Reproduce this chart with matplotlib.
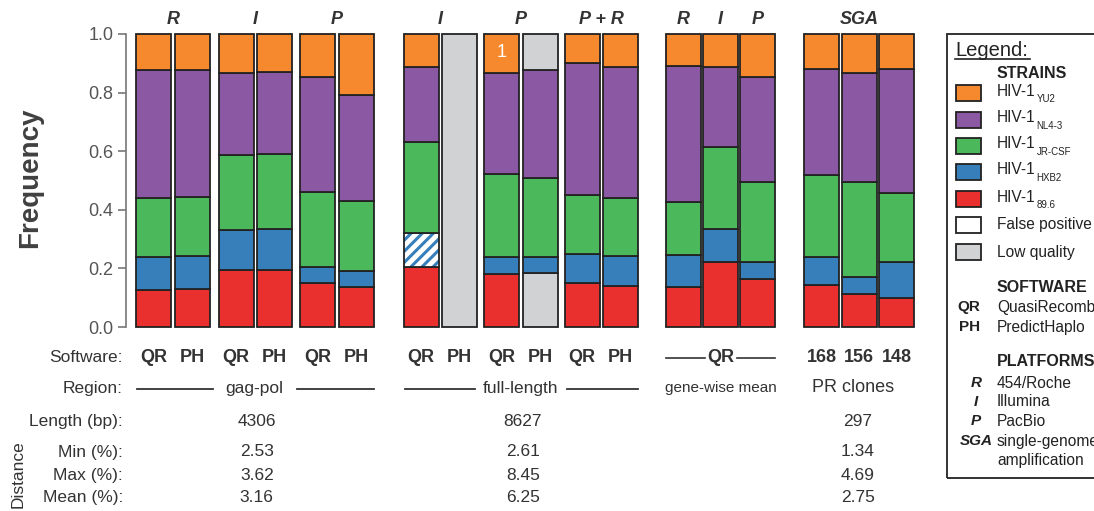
import matplotlib
matplotlib.use("Agg")
import matplotlib.pyplot as plt
from matplotlib.patches import Rectangle
from matplotlib.lines import Line2D
import numpy as np

plt.rcParams['font.family'] = ['Liberation Sans', 'DejaVu Sans']
plt.rcParams['hatch.linewidth'] = 2.2

# ---------------- data ----------------
group_sizes = [2, 2, 2, 2, 2, 2, 3, 3]
platform_labels = ["R", "I", "P", "I", "P", "P + R", None, "SGA"]
gene_platforms = ["R", "I", "P"]
software = ["QR", "PH"] * 6
sga_counts = ["168", "156", "148"]

low_q_bottom = [0, 0, 0, 0, 0, 0, 0, 1.0, 0, .183, 0, 0, 0, 0, 0, 0, 0, 0]
hiv_896 = [.125, .129, .195, .195, .151, .135, .206, 0, .181, 0, .149, .140, .135, .221, .165, .144, .114, .100]
hiv_hxb2 = [.114, .113, .136, .138, .053, .057, 0, 0, .059, .057, .100, .102, .110, .112, .056, .095, .058, .123]
false_pos = [0, 0, 0, 0, 0, 0, .116, 0, 0, 0, 0, 0, 0, 0, 0, 0, 0, 0]
hiv_jrcsf = [.200, .202, .255, .256, .256, .238, .310, 0, .281, .267, .201, .197, .183, .282, .273, .280, .324, .235]
hiv_nl43 = [.437, .433, .281, .280, .393, .361, .257, 0, .345, .370, .450, .450, .463, .274, .359, .360, .371, .421]
hiv_yu2 = [.124, .123, .133, .131, .147, .209, .111, 0, .134, 0, .100, .111, .109, .111, .147, .121, .133, .121]
low_q_top = [0, 0, 0, 0, 0, 0, 0, 0, 0, .123, 0, 0, 0, 0, 0, 0, 0, 0]

region_names = ["gag-pol", "full-length", "gene-wise mean", "PR clones"]
lengths = ["4306", "8627", "297"]
dist_min = ["2.53", "2.61", "1.34"]
dist_max = ["3.62", "8.45", "4.69"]
dist_mean = ["3.16", "6.25", "2.75"]

strain_names = ["YU2", "NL4-3", "JR-CSF", "HXB2", "89.6"]

# ---------------- style ----------------
C_OR = "#f6892e"
C_PU = "#8b58a3"
C_GR = "#4cb85c"
C_BL = "#377fbb"
C_RE = "#e9302f"
C_LQ = "#d1d2d4"
TXT = "#333333"

W, H = 1094, 511
fig = plt.figure(figsize=(W / 100, H / 100), dpi=100)


def P(x, y):
    return (x / W, 1 - y / H)


# axes mapped so that x data = pixel x
ax_l, ax_r, y_top, y_bot = 126, 925, 34, 327
ax = fig.add_axes([ax_l / W, 1 - y_bot / H, (ax_r - ax_l) / W, (y_bot - y_top) / H])
ax.set_xlim(ax_l, ax_r)
ax.set_ylim(0, 1)

# bar layout
bar_w = 35
group_gaps = [9, 8, 30, 7, 7, 28, 29]
steps = [38.5, 38.5, 38.5, 38.5, 38.5, 38.5, 37, 37.5]
x = 136
lefts = []
group_spans = []
for gi, n in enumerate(group_sizes):
    g0 = x
    for k in range(n):
        lefts.append(x)
        if k < n - 1:
            x += steps[gi]
    group_spans.append((g0, x + bar_w))
    x += bar_w
    if gi < len(group_gaps):
        x += group_gaps[gi]
lefts = np.array(lefts)
centers = lefts + bar_w / 2

segments = [
    (low_q_bottom, C_LQ, None),
    (hiv_896, C_RE, None),
    (hiv_hxb2, C_BL, None),
    (false_pos, "white", "///"),
    (hiv_jrcsf, C_GR, None),
    (hiv_nl43, C_PU, None),
    (hiv_yu2, C_OR, None),
    (low_q_top, C_LQ, None),
]
bottom = np.zeros(len(lefts))
for vals, col, hatch in segments:
    v = np.array(vals)
    m = v > 0
    if hatch:
        ax.bar(lefts[m], v[m], width=bar_w, bottom=bottom[m], align="edge",
               color=col, edgecolor=C_BL, hatch=hatch, linewidth=0, clip_on=False)
        ax.bar(lefts[m], v[m], width=bar_w, bottom=bottom[m], align="edge",
               facecolor="none", edgecolor="#222222", linewidth=1.3, clip_on=False)
    else:
        ax.bar(lefts[m], v[m], width=bar_w, bottom=bottom[m], align="edge",
               color=col, edgecolor="#222222", linewidth=1.3, clip_on=False)
    bottom += v

# "1" label in orange segment
ax.text(centers[8], 1 - hiv_yu2[8] / 2 + 0.005, "1", color="white", fontsize=13,
        ha="center", va="center")

for s in ["top", "right", "bottom"]:
    ax.spines[s].set_visible(False)
ax.spines["left"].set_color("#777777")
ax.spines["left"].set_linewidth(1.2)
ax.set_xticks([])
ax.set_yticks(np.arange(0, 1.01, 0.2))
ax.set_yticklabels([f"{t:.1f}" for t in np.arange(0, 1.01, 0.2)])
ax.tick_params(axis="y", colors="#777777", labelcolor="#555555", labelsize=13,
               length=6, width=1.2, pad=3)
fig.text(*P(30, 178), "Frequency", fontsize=20, fontweight="bold", color="#404040",
         rotation=90, ha="center", va="center")

# platform labels on top
for gi, lab in enumerate(platform_labels):
    a, b = group_spans[gi]
    if lab is not None:
        fig.text(*P((a + b) / 2, 20), lab, fontsize=13, fontweight="bold",
                 fontstyle="italic", ha="center", va="center", color=TXT)
gi7 = sum(group_sizes[:6])
for k, lab in enumerate(gene_platforms):
    fig.text(*P(centers[gi7 + k], 20), lab, fontsize=13, fontweight="bold",
             fontstyle="italic", ha="center", va="center", color=TXT)

# ---------------- bottom table ----------------
LBL_X = 123
row_sw, row_reg, row_len, row_min, row_max, row_mean = 358, 388, 421, 452, 475, 497
fs_tab = 12.5
for txt, yy in [("Software:", row_sw), ("Region:", row_reg), ("Length (bp):", row_len),
                ("Min (%):", row_min), ("Max (%):", row_max), ("Mean (%):", row_mean)]:
    fig.text(*P(LBL_X, yy), txt, fontsize=fs_tab, ha="right", va="center", color=TXT)
fig.text(*P(18, 474), "Distance", fontsize=12.5, rotation=90, ha="center", va="center",
         color=TXT)

for k, lab in enumerate(software):
    fig.text(*P(centers[k], row_sw), lab, fontsize=13, fontweight="bold",
             ha="center", va="center", color=TXT)
# gene-wise QR with lines
a7, b7 = group_spans[6]
c7 = (a7 + b7) / 2
fig.text(*P(c7, row_sw), "QR", fontsize=13, fontweight="bold", ha="center", va="center",
         color=TXT)
for xs in [(a7, c7 - 16), (c7 + 16, b7)]:
    fig.add_artist(Line2D([xs[0] / W, xs[1] / W], [1 - row_sw / H] * 2, color=TXT, lw=1.2))
gi8 = sum(group_sizes[:7])
for k, lab in enumerate(sga_counts):
    fig.text(*P(centers[gi8 + k], row_sw), lab, fontsize=13, fontweight="bold",
             ha="center", va="center", color=TXT)

# region row
spans_region = [(group_spans[0][0], group_spans[2][1]),
                (group_spans[3][0], group_spans[5][1]),
                group_spans[6], group_spans[7]]
half_w = [42, 46]
for i in range(2):
    a, b = spans_region[i]
    c = (a + b) / 2
    fig.text(*P(c, row_reg), region_names[i], fontsize=fs_tab, ha="center", va="center",
             color=TXT)
    for xs in [(a + 1, c - half_w[i]), (c + half_w[i], b)]:
        fig.add_artist(Line2D([xs[0] / W, xs[1] / W], [1 - (row_reg + 1) / H] * 2,
                              color=TXT, lw=1.3))
a, b = spans_region[2]
fig.text(*P((a + b) / 2, row_reg), region_names[2], fontsize=11, ha="center",
         va="center", color=TXT)
a, b = spans_region[3]
fig.text(*P((a + b) / 2 - 6, row_reg), region_names[3], fontsize=13, ha="center",
         va="center", color=TXT)

val_centers = [(spans_region[0][0] + spans_region[0][1]) / 2 + 2,
               (spans_region[1][0] + spans_region[1][1]) / 2 + 2,
               (spans_region[3][0] + spans_region[3][1]) / 2 - 1]
for i in range(3):
    for arr, yy in [(lengths, row_len), (dist_min, row_min), (dist_max, row_max),
                    (dist_mean, row_mean)]:
        fig.text(*P(val_centers[i], yy), arr[i], fontsize=fs_tab, ha="center",
                 va="center", color=TXT)

# ---------------- legend box ----------------
fig.add_artist(Rectangle(P(947, 478), (1200 - 947) / W, (478 - 34) / H,
                         transform=fig.transFigure, facecolor="none",
                         edgecolor="#222222", lw=1.3))
fig.text(*P(955, 50), "Legend:", fontsize=14.5, ha="left", va="center",
         color="#222222")
fig.add_artist(Line2D([955 / W, 1030 / W], [1 - 59 / H] * 2, color="#222222", lw=1.2))

LX = 997
fs_leg = 11.2
fig.text(*P(LX, 74), "STRAINS", fontsize=11.5, fontweight="bold", ha="left",
         va="center", color="#222222")
strain_cols = [C_OR, C_PU, C_GR, C_BL, C_RE]
row_y = [93, 120, 146, 172, 199, 225, 252]
fig.canvas.draw()
renderer = fig.canvas.get_renderer()
for i, (nm, col) in enumerate(zip(strain_names, strain_cols)):
    yy = row_y[i]
    fig.add_artist(Rectangle(P(956, yy + 8), 25 / W, 16 / H, transform=fig.transFigure,
                             facecolor=col, edgecolor="#222222", lw=1.3))
    t = fig.text(*P(LX, yy - 2), "HIV-1", fontsize=fs_leg, ha="left", va="center",
                 color="#222222")
    bb = t.get_window_extent(renderer=renderer)
    fig.text(bb.x1 / W + 1 / W, 1 - (yy + 6) / H, nm, fontsize=7, ha="left",
             va="center", color="#222222")
for i, (nm, col) in enumerate([("False positive", "white"), ("Low quality", C_LQ)]):
    yy = row_y[5 + i]
    fig.add_artist(Rectangle(P(956, yy + 8), 25 / W, 16 / H, transform=fig.transFigure,
                             facecolor=col, edgecolor="#222222", lw=1.3))
    fig.text(*P(LX, yy), nm, fontsize=fs_leg, ha="left", va="center", color="#222222")

fig.text(*P(LX, 287), "SOFTWARE", fontsize=11.5, fontweight="bold", ha="left",
         va="center", color="#222222")
for yy, ab, full in [(307, "QR", "QuasiRecomb"), (327, "PH", "PredictHaplo")]:
    fig.text(*P(980, yy), ab, fontsize=11, fontweight="bold", ha="right", va="center",
             color="#222222")
    fig.text(*P(LX, yy), full, fontsize=fs_leg, ha="left", va="center", color="#222222")

fig.text(*P(LX, 362), "PLATFORMS", fontsize=11.5, fontweight="bold", ha="left",
         va="center", color="#222222")
for yy, ab, full in [(383, "R", "454/Roche"), (402, "I", "Illumina"), (421, "P", "PacBio"),
                     (441, "SGA", "single-genome")]:
    fig.text(*P(976, yy), ab, fontsize=11, fontweight="bold", fontstyle="italic",
             ha="center", va="center", color="#222222")
    fig.text(*P(LX, yy), full, fontsize=fs_leg, ha="left", va="center", color="#222222")
fig.text(*P(LX, 460), "amplification", fontsize=fs_leg, ha="left", va="center",
         color="#222222")

fig.savefig("out.png", dpi=100)
